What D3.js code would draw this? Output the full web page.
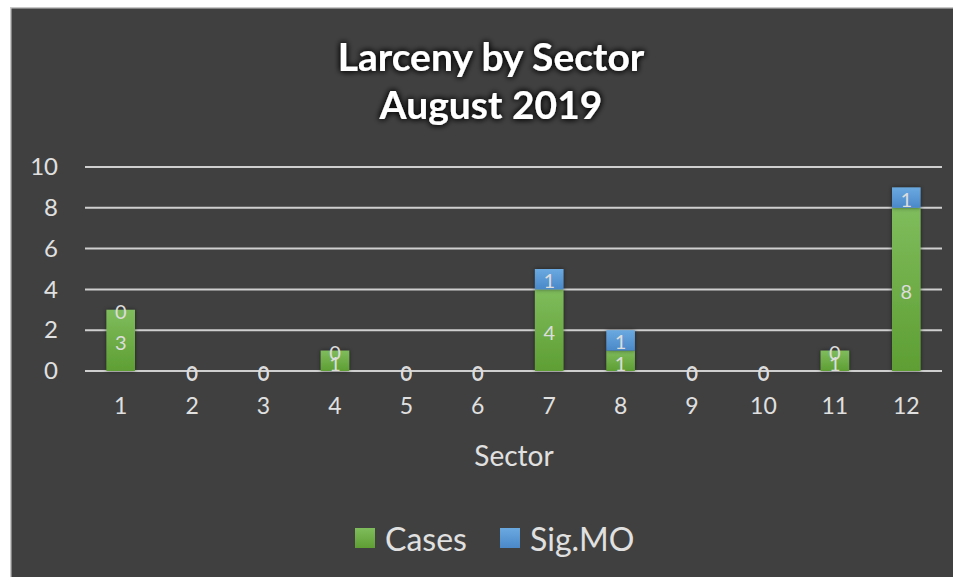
<!DOCTYPE html>
<html>
<head>
<meta charset="utf-8">
<script src="https://cdn.jsdelivr.net/npm/d3@7"></script>
<style>
  html, body { margin: 0; padding: 0; background: #fff; }
  svg { display: block; }
</style>
</head>
<body>
<svg id="chart" width="953" height="577"></svg>
<script>
// ── Data ─────────────────────────────────────────────
const sectors = ['1', '2', '3', '4', '5', '6', '7', '8', '9', '10', '11', '12'];
const cases   = [3, 0, 0, 1, 0, 0, 4, 1, 0, 0, 1, 8];
const sigMO   = [0, 0, 0, 0, 0, 0, 1, 1, 0, 0, 0, 1];
const yTicks  = [0, 2, 4, 6, 8, 10];
const titleLines = ['Larceny by Sector', 'August 2019'];

const FONT = 'Lato, "Open Sans", sans-serif';
const TXT = '#e0e0e0';

const svg = d3.select('#chart');
const defs = svg.append('defs');

// title glow
const glow = defs.append('filter').attr('id', 'title-glow')
  .attr('x', '-20%').attr('y', '-40%').attr('width', '140%').attr('height', '180%');
glow.append('feGaussianBlur').attr('in', 'SourceAlpha').attr('stdDeviation', 3).attr('result', 'b');
glow.append('feFlood').attr('flood-color', '#000').attr('flood-opacity', 0.9);
glow.append('feComposite').attr('in2', 'b').attr('operator', 'in').attr('result', 's');
const gm = glow.append('feMerge');
gm.append('feMergeNode').attr('in', 's');
gm.append('feMergeNode').attr('in', 's');
gm.append('feMergeNode').attr('in', 'SourceGraphic');

// bar shadow
const bs = defs.append('filter').attr('id', 'bar-shadow')
  .attr('x', '-30%').attr('y', '-30%').attr('width', '160%').attr('height', '160%');
bs.append('feDropShadow').attr('dx', 0).attr('dy', 0).attr('stdDeviation', 2)
  .attr('flood-color', '#000').attr('flood-opacity', 0.5);

function vGrad(id, top, bottom) {
  const g = defs.append('linearGradient').attr('id', id)
    .attr('x1', 0).attr('y1', 0).attr('x2', 0).attr('y2', 1);
  g.append('stop').attr('offset', '0%').attr('stop-color', top);
  g.append('stop').attr('offset', '100%').attr('stop-color', bottom);
}
vGrad('g-cases', '#7fbc5c', '#5e9e33');
vGrad('g-sig', '#6aa9e0', '#4a88c9');

// background + border
svg.append('rect').attr('x', 10).attr('y', 7).attr('width', 943).attr('height', 570)
  .attr('fill', '#c8c8c8');
svg.append('rect').attr('x', 11.5).attr('y', 8.5).attr('width', 942).attr('height', 569)
  .attr('fill', '#404040');

// ── Scales ───────────────────────────────────────────
const x = d3.scaleBand().domain(sectors).range([85, 942]).paddingInner(0.6).paddingOuter(0.3);
const y = d3.scaleLinear().domain([0, 10]).range([371, 167]);

// grid
svg.append('g').selectAll('line').data(yTicks).join('line')
  .attr('x1', 85).attr('x2', 942)
  .attr('y1', d => y(d)).attr('y2', d => y(d))
  .attr('stroke', '#cfcfcf').attr('stroke-width', 2);

// y axis labels
const yAxis = svg.append('g').attr('transform', 'translate(58,0)')
  .call(d3.axisLeft(y).tickValues(yTicks).tickSize(0).tickPadding(0));
yAxis.select('.domain').remove();
yAxis.selectAll('text').attr('fill', TXT).attr('font-family', FONT).attr('font-size', 24);

// x axis labels
const xAxis = svg.append('g').attr('transform', `translate(0,${y(0)})`)
  .call(d3.axisBottom(x).tickSize(0).tickPadding(27));
xAxis.select('.domain').remove();
xAxis.selectAll('text').attr('fill', TXT).attr('font-family', FONT).attr('font-size', 23);

// ── Bars ─────────────────────────────────────────────
const rows = sectors.map((s, i) => ({ s, c: cases[i], m: sigMO[i] }));
const bars = svg.append('g');

bars.selectAll('rect.cases').data(rows.filter(d => d.c > 0)).join('rect')
  .attr('class', 'cases')
  .attr('x', d => x(d.s)).attr('width', x.bandwidth())
  .attr('y', d => y(d.c)).attr('height', d => y(0) - y(d.c))
  .attr('fill', 'url(#g-cases)').attr('filter', 'url(#bar-shadow)');

bars.selectAll('rect.sig').data(rows.filter(d => d.m > 0)).join('rect')
  .attr('class', 'sig')
  .attr('x', d => x(d.s)).attr('width', x.bandwidth())
  .attr('y', d => y(d.c + d.m)).attr('height', d => y(d.c) - y(d.c + d.m))
  .attr('fill', 'url(#g-sig)').attr('filter', 'url(#bar-shadow)');

// data labels
const lbl = svg.append('g').attr('font-family', FONT).attr('font-size', 20)
  .attr('fill', '#dcdcdc').attr('text-anchor', 'middle').attr('dominant-baseline', 'central');

lbl.selectAll('text.cl').data(rows).join('text')
  .attr('class', 'cl')
  .attr('x', d => x(d.s) + x.bandwidth() / 2)
  .attr('y', d => y(d.c / 2) + 2)
  .text(d => d.c);

lbl.selectAll('text.ml').data(rows).join('text')
  .attr('class', 'ml')
  .attr('x', d => x(d.s) + x.bandwidth() / 2)
  .attr('y', d => y(d.c + d.m / 2) + 1)
  .text(d => d.m);

// ── Titles ───────────────────────────────────────────
svg.append('g').selectAll('text').data(titleLines).join('text')
  .attr('x', 491).attr('y', (d, i) => 56 + i * 48)
  .attr('text-anchor', 'middle').attr('dominant-baseline', 'central')
  .attr('font-family', FONT).attr('font-weight', 'bold').attr('font-size', 39)
  .attr('fill', '#fff').attr('filter', 'url(#title-glow)')
  .text(d => d);

svg.append('text').attr('x', 514).attr('y', 455)
  .attr('text-anchor', 'middle').attr('dominant-baseline', 'central')
  .attr('font-family', FONT).attr('font-size', 28).attr('fill', TXT)
  .text('Sector');

// ── Legend ───────────────────────────────────────────
const legendItems = [
  { name: 'Cases', fill: 'url(#g-cases)', x: 355 },
  { name: 'Sig.MO', fill: 'url(#g-sig)', x: 500 }
];
const leg = svg.append('g').selectAll('g').data(legendItems).join('g')
  .attr('transform', d => `translate(${d.x},538)`);
leg.append('rect').attr('x', 0).attr('y', -10).attr('width', 20).attr('height', 20)
  .attr('fill', d => d.fill);
leg.append('text').attr('x', 30).attr('y', 0).attr('dominant-baseline', 'central')
  .attr('font-family', FONT).attr('font-size', 32).attr('fill', TXT)
  .text(d => d.name);
</script>
</body>
</html>
